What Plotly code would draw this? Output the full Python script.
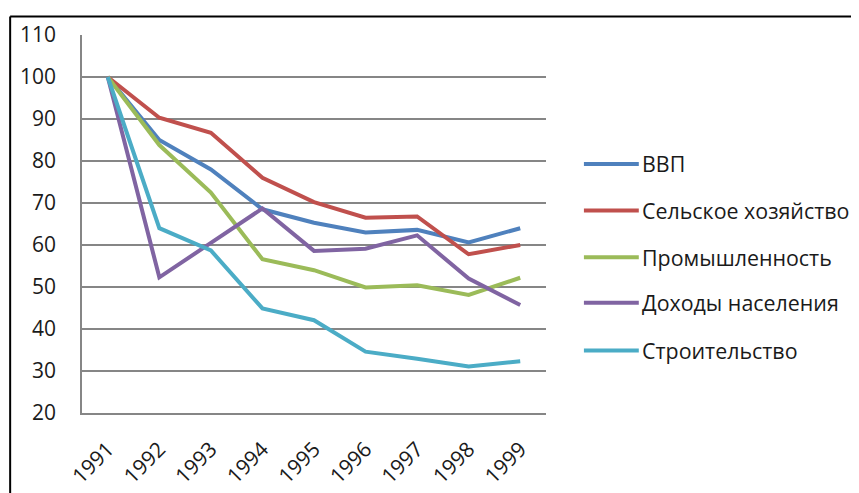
import plotly.graph_objects as go

years = ["1991", "1992", "1993", "1994", "1995", "1996", "1997", "1998", "1999"]
names = ["ВВП", "Сельское хозяйство", "Промышленность", "Доходы населения", "Строительство"]
vvp = [100, 85, 78, 68.5, 65.3, 63, 63.6, 60.6, 64]
selhoz = [100, 90.3, 86.7, 76, 70.2, 66.5, 66.8, 57.8, 60]
prom = [100, 83.8, 72.5, 56.6, 54, 49.9, 50.4, 48.1, 52.2]
dohody = [100, 52.3, 60.5, 68.7, 58.6, 59.1, 62.3, 52, 45.7]
stroit = [100, 64, 58.7, 44.9, 42.1, 34.6, 32.9, 31.1, 32.3]
series = [vvp, selhoz, prom, dohody, stroit]
colors = ["#4F81BD", "#C0504D", "#9BBB59", "#8064A2", "#4BACC6"]
yticks = [20, 30, 40, 50, 60, 70, 80, 90, 100, 110]

# page has an 8px body margin; coordinates below are figure coordinates
W, H = 859, 493
L, R, T, B = 73, 538, 25, 406
FONT = "Open Sans"
TXT = "#1a1a1a"

fig = go.Figure()
for name, vals, c in zip(names, series, colors):
    fig.add_trace(go.Scatter(x=years, y=vals, mode="lines", name=name,
                             line=dict(color=c, width=4), showlegend=False))

pw, ph = R - L, B - T
def px(x):
    return (x - L) / pw
def py(y):
    return (B - y) / ph

shapes = []
annotations = []
# outer border (top and left edges visible)
shapes.append(dict(type="line", xref="paper", yref="paper", x0=px(1), x1=px(W),
                   y0=py(6.3), y1=py(6.3), line=dict(color="#000000", width=2)))
shapes.append(dict(type="line", xref="paper", yref="paper", x0=px(1), x1=px(1),
                   y0=py(6.3), y1=py(H), line=dict(color="#000000", width=2)))
# custom legend
leg_y = [155, 202, 249, 295, 343]
for name, c, yy in zip(names, colors, leg_y):
    shapes.append(dict(type="line", xref="paper", yref="paper", x0=px(576), x1=px(631),
                       y0=py(yy), y1=py(yy), line=dict(color=c, width=4)))
    annotations.append(dict(xref="paper", yref="paper", x=px(632), y=py(yy), text=name,
                            showarrow=False, xanchor="left", yanchor="middle",
                            font=dict(family=FONT, size=21.4, color=TXT)))

fig.update_layout(
    width=W, height=H,
    margin=dict(l=L, r=W - R, t=T, b=H - B, pad=0),
    paper_bgcolor="white", plot_bgcolor="white",
    shapes=shapes, annotations=annotations,
    font=dict(family=FONT, size=21, color=TXT),
)
fig.update_xaxes(type="category", categoryorder="array", categoryarray=years,
                 range=[-0.5, 8.5], showgrid=False, showline=True, linecolor="#868686",
                 linewidth=1.5, ticks="", tickangle=-45, ticklabelstandoff=14,
                 tickfont=dict(family=FONT, size=21, color=TXT), mirror=False)
fig.update_yaxes(range=[20, 110], tickvals=yticks, ticktext=[str(v) for v in yticks],
                 showgrid=True, gridcolor="#868686", gridwidth=1.5, showline=True,
                 linecolor="#868686", linewidth=1.5, ticks="", ticklabelstandoff=20,
                 zeroline=False, tickfont=dict(family=FONT, size=21, color=TXT))

fig.write_html("out.html")
